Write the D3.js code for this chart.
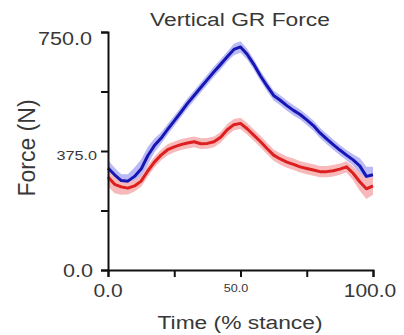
<!DOCTYPE html>
<html>
<head>
<meta charset="utf-8">
<script src="https://cdn.jsdelivr.net/npm/d3@7"></script>
<style>
  body { margin: 0; background: #fff; }
  text { font-family: "Liberation Sans", Arial, sans-serif; fill: #383838; }
</style>
</head>
<body>
<svg id="chart"></svg>
<script>
// stance time (%), shared by both curves
var stance = [0, 2.5, 5, 7.5, 10, 12.5, 15, 17.5, 20, 22.5, 25, 27.5, 30, 32.5, 35, 37.5, 40,
    42.5, 45, 47.5, 50, 52.5, 55, 57.5, 60, 62.5, 65, 67.5, 70, 72.5, 75, 77.5, 80, 82.5, 85,
    87.5, 90, 92.5, 95, 97.5, 100];

// blue curve mean and band half-width (N)
var blueMean = [321, 300, 282, 280, 295, 318, 360, 392, 415, 443, 470, 497, 525, 550, 575, 600, 625,
    648, 672, 695, 703, 680, 648, 612, 580, 550, 535, 518, 503, 490, 473, 455, 432, 413, 395,
    378, 362, 347, 328, 295, 300];
var blueSd = [25, 22, 20, 22, 28, 30, 28, 22, 18, 17, 16, 16, 16, 16, 16, 16, 16,
    16, 16, 18, 18, 17, 16, 16, 16, 16, 16, 16, 16, 16, 16, 16, 16, 16, 16,
    16, 16, 18, 25, 30, 25];

// red curve mean and band half-width (N)
var redMean = [293, 270, 262, 258, 265, 280, 312, 340, 362, 379, 388, 395, 400, 404, 398, 399, 404,
    418, 442, 458, 462, 445, 425, 405, 383, 362, 350, 340, 333, 325, 320, 315, 310, 310, 313,
    318, 325, 305, 278, 256, 265];
var redSd = [30, 28, 25, 20, 18, 18, 17, 17, 17, 17, 17, 17, 17, 17, 17, 17, 17,
    17, 18, 18, 18, 18, 18, 18, 18, 18, 18, 18, 18, 18, 18, 18, 18, 18, 18,
    18, 18, 22, 28, 32, 28];

var yTicks = [0, 187.5, 375, 562.5, 750];
var xTicks = [0, 25, 50, 75, 100];

var w = 404, h = 335;
var svg = d3.select("#chart").attr("width", w).attr("height", h);

var x = d3.scaleLinear().domain([0, 100]).range([108, 373]);
var y = d3.scaleLinear().domain([0, 750]).range([270, 32]);

function rows(mean, sd) {
    return stance.map(function(t, i) { return { t: t, m: mean[i], s: sd[i] }; });
}

var band = d3.area()
    .x(function(d) { return x(d.t); })
    .y0(function(d) { return y(d.m - d.s); })
    .y1(function(d) { return y(d.m + d.s); });

var line = d3.line()
    .x(function(d) { return x(d.t); })
    .y(function(d) { return y(d.m); });

var series = [
    { data: rows(blueMean, blueSd), fill: "#b9b9f6", stroke: "#1616b4" },
    { data: rows(redMean, redSd), fill: "#f7b9b9", stroke: "#dd1f1f" }
];

series.forEach(function(s) {
    svg.append("path").attr("d", band(s.data)).attr("fill", s.fill);
});
series.forEach(function(s) {
    svg.append("path").attr("d", line(s.data))
        .attr("fill", "none")
        .attr("stroke", s.stroke)
        .attr("stroke-width", 3)
        .attr("stroke-linejoin", "round");
});

// axes
var yAxis = svg.append("g").attr("transform", "translate(108,0)")
    .call(d3.axisLeft(y).tickValues(yTicks).tickSize(7).tickFormat(""));
var xAxis = svg.append("g").attr("transform", "translate(0,270)")
    .call(d3.axisBottom(x).tickValues(xTicks).tickSize(7).tickFormat(""));

[yAxis, xAxis].forEach(function(a) {
    a.select(".domain").attr("stroke", "#111").attr("stroke-width", 2);
    a.selectAll(".tick line").attr("stroke", "#111").attr("stroke-width", 2);
});

// the source picture is a bit wide, so the horizontal text is stretched
var sx = 1.2;
function label(px, py, str, size, anchor) {
    svg.append("g").attr("transform", "translate(" + px + "," + py + ") scale(" + sx + ",1)")
        .append("text")
        .attr("text-anchor", anchor)
        .style("font-size", size + "px")
        .text(str);
}

// tick labels: the ends are large, the middles small
label(92, 45, "750.0", 18, "end");
label(97, 160, "375.0", 13.5, "end");
label(93, 277, "0.0", 18, "end");

label(x(0), 297, "0.0", 17.5, "middle");
label(236, 292, "50.0", 10.5, "middle");
label(370, 297, "100.0", 17.5, "middle");

// titles
label(240, 26, "Vertical GR Force", 19, "middle");
label(240, 329, "Time (% stance)", 19, "middle");
svg.append("text")
    .attr("transform", "translate(35,148) rotate(-90)")
    .attr("text-anchor", "middle").style("font-size", "23px").text("Force (N)");
</script>
</body>
</html>
